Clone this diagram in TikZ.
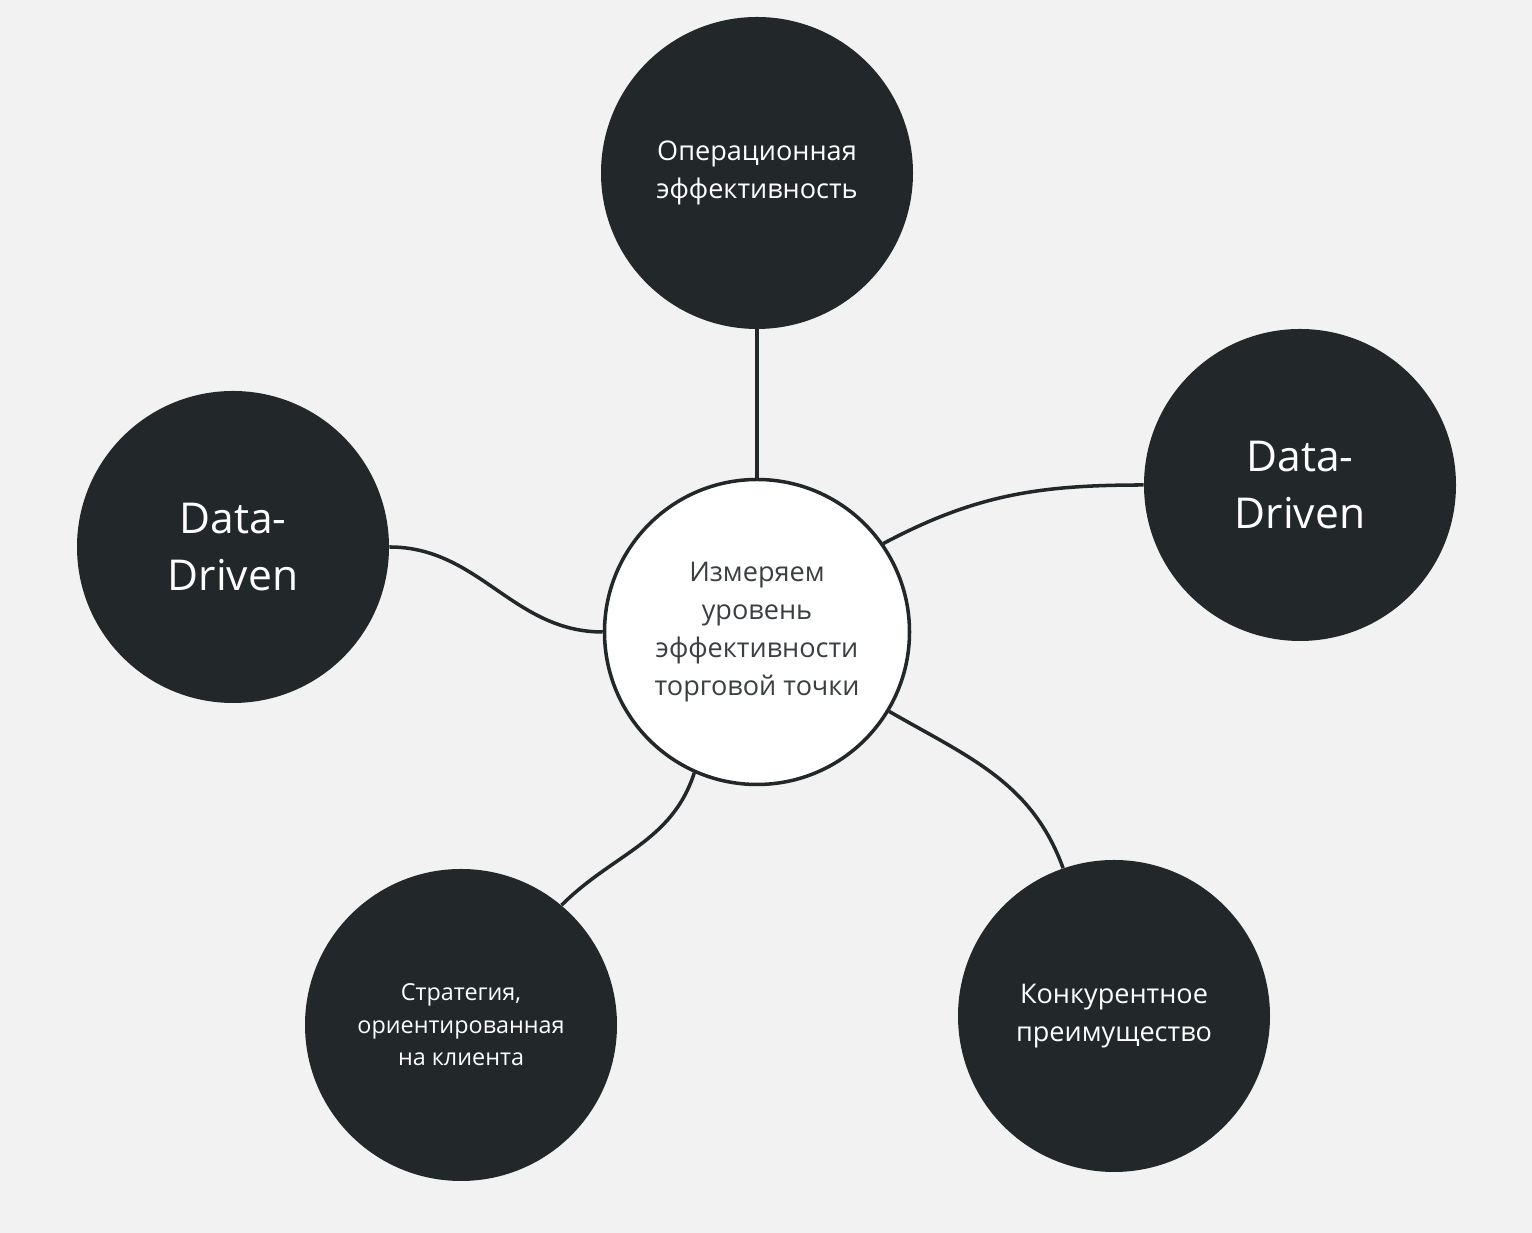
\documentclass[tikz,border=0pt]{standalone}
\usepackage{fontspec}
\setmainfont{Open Sans}
\definecolor{bg}{HTML}{F2F2F2}
\definecolor{dark}{HTML}{22282A}
\definecolor{ctext}{HTML}{3A3F41}
\begin{document}
\begin{tikzpicture}[
  outer/.style={circle, fill=dark, draw=none, minimum size=6.24cm, inner sep=0pt, text=white, align=center},
  inner/.style={circle, fill=white, draw=dark, line width=2pt, minimum size=6.1cm, inner sep=0pt, text=ctext, align=center},
  link/.style={draw=dark, line width=2pt},
  mid/.style={font=\fontsize{15.4}{21.6}\selectfont},
  big/.style={font=\fontsize{24.2}{32.4}\selectfont},
  small/.style={font=\fontsize{13.3}{18.4}\selectfont},
]
\fill[bg] (0,0) rectangle (30.64,24.66);
\useasboundingbox (0,0) rectangle (30.64,24.66);

\node[inner, mid] (c) at (15.14,12.02) {Измеряем\\ уровень\\ эффективности\\ торговой точки};
\node[outer, mid] (t) at (15.14,21.2) {Операционная\\ эффективность};
\node[outer, big] (r) at (26.0,14.96) {Data-\\ Driven};
\node[outer, big] (l) at (4.66,13.72) {Data-\\ Driven};
\node[outer, small] (bl) at (9.22,4.16) {Стратегия,\\ ориентированная\\ на клиента};
\node[outer, mid] (br) at (22.28,4.34) {Конкурентное\\ преимущество};

\draw[link] (t.south) -- (c.north);
\draw[link] (c.35) to[out=28,in=180] (r.180);
\draw[link] (l.0) to[out=0,in=180] (c.180);
\draw[link] (c.246) to[out=-108,in=45] (bl.50);
\draw[link] (c.-31) to[out=-30,in=110] (br.109);
\end{tikzpicture}
\end{document}
